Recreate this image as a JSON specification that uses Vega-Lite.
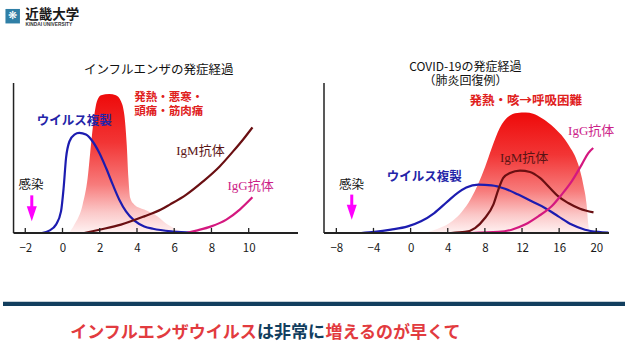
{
  "$schema": "https://vega.github.io/schema/vega-lite/v6.json",
  "padding": 0,
  "background": "white",
  "bounds": "flush",
  "spacing": 0,
  "config": {
    "view": {"stroke": null},
    "font": "Noto Sans CJK JP",
    "axis": {"domain": false, "ticks": false, "tickSize": 0, "grid": false, "labelFont": "Noto Sans CJK JP", "labelFontSize": 11.5, "labelColor": "#1a1a1a", "labelPadding": 9, "labelFlush": false, "labelOverlap": false}
  },
  "datasets": {
    "logo": [{"col": 9.7, "row": 16.2, "text": "❋"}],
    "logo_name": [{"col": 22.3, "row": 15, "text": "近畿大学"}],
    "logo_sub": [{"col": 22.5, "row": 25.3, "text": "KINDAI UNIVERSITY"}],
    "footer_rule": [{"col": 0, "col2": 625, "row": 220.8}],
    "caption": [
      {"text": "インフルエンザウイルス", "col": 160.5, "row": 249.5, "tone": "red"},
      {"text": "は非常に", "col": 288, "row": 249.5, "tone": "navy"},
      {"text": "増えるのが早くて", "col": 390, "row": 249.5, "tone": "red"}
    ],
    "flu_fever": [
      {"day": 0.35, "level": 0}, {"day": 0.64, "level": 5.6}, {"day": 1.08, "level": 18.9}, {"day": 1.35, "level": 36.7},
      {"day": 1.53, "level": 58.9}, {"day": 1.71, "level": 78.9}, {"day": 1.85, "level": 87.8}, {"day": 2.07, "level": 91.8},
      {"day": 2.51, "level": 92.7}, {"day": 2.87, "level": 91.8}, {"day": 3.14, "level": 87.8}, {"day": 3.32, "level": 78.9},
      {"day": 3.45, "level": 58.9}, {"day": 3.54, "level": 36.7}, {"day": 3.64, "level": 23.3}, {"day": 3.86, "level": 18.9},
      {"day": 4.39, "level": 15.6}, {"day": 5.11, "level": 11}, {"day": 5.6, "level": 6}, {"day": 6.1, "level": 2.5}, {"day": 6.6, "level": 0}
    ],
    "flu_lines": [
      {"series": "virus", "day": -1.1, "level": 0}, {"series": "virus", "day": -0.71, "level": 1.6}, {"series": "virus", "day": -0.35, "level": 5.6},
      {"series": "virus", "day": -0.08, "level": 14.4}, {"series": "virus", "day": 0.06, "level": 30}, {"series": "virus", "day": 0.19, "level": 50},
      {"series": "virus", "day": 0.37, "level": 61}, {"series": "virus", "day": 0.64, "level": 65.6}, {"series": "virus", "day": 0.9, "level": 66.7},
      {"series": "virus", "day": 1.26, "level": 65.6}, {"series": "virus", "day": 1.62, "level": 61}, {"series": "virus", "day": 1.98, "level": 53.3},
      {"series": "virus", "day": 2.34, "level": 43.3}, {"series": "virus", "day": 2.7, "level": 32.2}, {"series": "virus", "day": 3.05, "level": 22.2},
      {"series": "virus", "day": 3.41, "level": 14.4}, {"series": "virus", "day": 3.86, "level": 8.2}, {"series": "virus", "day": 4.39, "level": 4.4},
      {"series": "virus", "day": 4.86, "level": 2.8}, {"series": "virus", "day": 5.93, "level": 1}, {"series": "virus", "day": 7.0, "level": 0.3},
      {"series": "IgM", "day": 1.17, "level": 0}, {"series": "IgM", "day": 1.98, "level": 2.2}, {"series": "IgM", "day": 3.14, "level": 5.6},
      {"series": "IgM", "day": 4.39, "level": 11.1}, {"series": "IgM", "day": 5.29, "level": 15.6}, {"series": "IgM", "day": 5.76, "level": 18.9},
      {"series": "IgM", "day": 6.65, "level": 25.6}, {"series": "IgM", "day": 7.55, "level": 34.4}, {"series": "IgM", "day": 8.44, "level": 44.4},
      {"series": "IgM", "day": 9.16, "level": 54.4}, {"series": "IgM", "day": 9.69, "level": 62.2}, {"series": "IgM", "day": 10.2, "level": 70.4},
      {"series": "IgG", "day": 6.65, "level": 0}, {"series": "IgG", "day": 7.19, "level": 1.6}, {"series": "IgG", "day": 7.99, "level": 4.4},
      {"series": "IgG", "day": 8.8, "level": 8.9}, {"series": "IgG", "day": 9.52, "level": 15.6}, {"series": "IgG", "day": 10.2, "level": 23.8}
    ],
    "flu_ticks": [{"day": -2}, {"day": 0}, {"day": 2}, {"day": 4}, {"day": 6}, {"day": 8}, {"day": 10}],
    "flu_frame": [{"day": -2.63, "day2": 12.648}],
    "flu_bold": [
      {"text": "ウイルス複製", "day": 0.63, "level": 74.5}
    ],
    "flu_red": [
      {"text": "発熱・悪寒・\n頭痛・筋肉痛", "day": 5.71, "level": 89.8}
    ],
    "flu_ab": [
      {"text": "IgM抗体", "day": 7.41, "level": 54.9, "kind": "IgM"},
      {"text": "IgG抗体", "day": 10.1, "level": 31.1, "kind": "IgG"}
    ],
    "flu_plain": [
      {"text": "インフルエンザの発症経過", "day": 5.17, "level": 109},
      {"text": "感染", "day": -1.69, "level": 31.8}
    ],
    "flu_arrow": [{"day": -1.65, "top": 25.1, "head": 12.8}],
    "cov_fever": [
      {"day": 1.5, "level": 0}, {"day": 3, "level": 3}, {"day": 4.5, "level": 8}, {"day": 5.5, "level": 14}, {"day": 6.5, "level": 23},
      {"day": 7.3, "level": 33}, {"day": 8.05, "level": 44.5}, {"day": 8.7, "level": 56}, {"day": 9.6, "level": 70}, {"day": 10.5, "level": 77.5},
      {"day": 11.5, "level": 80}, {"day": 12.4, "level": 80.3}, {"day": 13.2, "level": 79.5}, {"day": 14.1, "level": 76.7}, {"day": 15.5, "level": 70},
      {"day": 17.0, "level": 58.9}, {"day": 18.06, "level": 45.6}, {"day": 18.6, "level": 32.2}, {"day": 18.96, "level": 18.9}, {"day": 19.14, "level": 5.6},
      {"day": 19.25, "level": 0}
    ],
    "cov_lines": [
      {"series": "virus", "day": -5.34, "level": 0}, {"series": "virus", "day": -3.91, "level": 0.7}, {"series": "virus", "day": -2.11, "level": 2.2},
      {"series": "virus", "day": -0.31, "level": 4.4}, {"series": "virus", "day": 1.12, "level": 7.8}, {"series": "virus", "day": 2.55, "level": 13.3},
      {"series": "virus", "day": 3.99, "level": 21.1}, {"series": "virus", "day": 5.07, "level": 26.7}, {"series": "virus", "day": 6.0, "level": 30.3},
      {"series": "virus", "day": 7.29, "level": 32.2}, {"series": "virus", "day": 8.73, "level": 31.8}, {"series": "virus", "day": 10.17, "level": 29.5},
      {"series": "virus", "day": 11.6, "level": 25.6}, {"series": "virus", "day": 13.04, "level": 21.1}, {"series": "virus", "day": 14.47, "level": 16.7},
      {"series": "virus", "day": 15.91, "level": 11.1}, {"series": "virus", "day": 17.35, "level": 5.6}, {"series": "virus", "day": 18.78, "level": 2.2},
      {"series": "virus", "day": 20.21, "level": 0.7}, {"series": "virus", "day": 21.3, "level": 0.2},
      {"series": "IgM", "day": 4.35, "level": 0}, {"series": "IgM", "day": 5.86, "level": 0.7}, {"series": "IgM", "day": 6.94, "level": 3.3},
      {"series": "IgM", "day": 8.01, "level": 10}, {"series": "IgM", "day": 8.91, "level": 18.9}, {"series": "IgM", "day": 9.45, "level": 28.9},
      {"series": "IgM", "day": 9.98, "level": 36.7}, {"series": "IgM", "day": 10.7, "level": 40}, {"series": "IgM", "day": 11.78, "level": 41.6},
      {"series": "IgM", "day": 12.86, "level": 40.7}, {"series": "IgM", "day": 13.93, "level": 36.7}, {"series": "IgM", "day": 15.01, "level": 30},
      {"series": "IgM", "day": 15.91, "level": 24.4}, {"series": "IgM", "day": 16.98, "level": 20}, {"series": "IgM", "day": 18.24, "level": 16.2},
      {"series": "IgM", "day": 19.7, "level": 13.8},
      {"series": "IgG", "day": 6.5, "level": 0}, {"series": "IgG", "day": 9.45, "level": 0.7}, {"series": "IgG", "day": 10.89, "level": 2.2},
      {"series": "IgG", "day": 12.32, "level": 5.6}, {"series": "IgG", "day": 13.75, "level": 11.1}, {"series": "IgG", "day": 15.19, "level": 17.8},
      {"series": "IgG", "day": 16.27, "level": 25.6}, {"series": "IgG", "day": 17.35, "level": 34.4}, {"series": "IgG", "day": 18.43, "level": 45.6},
      {"series": "IgG", "day": 19.14, "level": 53.3}, {"series": "IgG", "day": 19.67, "level": 56.7}
    ],
    "cov_ticks": [{"day": -8}, {"day": -4}, {"day": 0}, {"day": 4}, {"day": 8}, {"day": 12}, {"day": 16}, {"day": 20}],
    "cov_frame": [{"day": -9.33, "day2": 21.37}],
    "cov_bold": [
      {"text": "ウイルス複製", "day": 1.48, "level": 37.1, "kind": "virus"},
      {"text": "発熱・咳→呼吸困難", "day": 12.4, "level": 87.8, "kind": "fever"}
    ],
    "cov_ab": [
      {"text": "IgM抗体", "day": 12.23, "level": 50, "kind": "IgM"},
      {"text": "IgG抗体", "day": 19.45, "level": 67.8, "kind": "IgG"}
    ],
    "cov_title": [
      {"text": "COVID-19の発症経過\n（肺炎回復例）", "day": 5.9, "level": 110.9}
    ],
    "cov_plain": [
      {"text": "感染", "day": -6.36, "level": 31.8}
    ],
    "cov_arrow": [{"day": -6.34, "top": 25.6, "head": 13.9}]
  },
  "vconcat": [
    {
      "width": 625,
      "height": 83,
      "layer": [
        {
          "data": {"name": "logo"},
          "mark": {"type": "point", "shape": "square", "filled": true, "size": 210, "color": "#2f7fa6", "opacity": 1},
          "encoding": {
            "x": {"field": "col", "type": "quantitative", "scale": {"domain": [0, 625], "nice": false, "zero": false}, "axis": null},
            "y": {"field": "row", "type": "quantitative", "scale": {"domain": [0, 83], "nice": false, "zero": false, "reverse": true}, "axis": null}
          }
        },
        {
          "data": {"name": "logo"},
          "mark": {"type": "text", "font": "DejaVu Sans", "fontSize": 11, "color": "white", "align": "center", "baseline": "middle"},
          "encoding": {
            "x": {"field": "col", "type": "quantitative"},
            "y": {"field": "row", "type": "quantitative"},
            "text": {"field": "text"}
          }
        },
        {
          "data": {"name": "logo_name"},
          "mark": {"type": "text", "font": "Noto Sans CJK JP", "fontSize": 13.5, "fontWeight": "bold", "color": "#1a1a1a", "align": "left", "baseline": "middle"},
          "encoding": {
            "x": {"field": "col", "type": "quantitative"},
            "y": {"field": "row", "type": "quantitative"},
            "text": {"field": "text"}
          }
        },
        {
          "data": {"name": "logo_sub"},
          "mark": {"type": "text", "font": "Liberation Sans", "fontSize": 4.8, "fontWeight": "bold", "color": "#333333", "align": "left", "baseline": "middle"},
          "encoding": {
            "x": {"field": "col", "type": "quantitative"},
            "y": {"field": "row", "type": "quantitative"},
            "text": {"field": "text"}
          }
        }
      ]
    },
    {
      "hconcat": [
        {
          "width": 295,
          "height": 150,
          "resolve": {"scale": {"color": "independent"}},
          "layer": [
            {
              "data": {"name": "flu_fever"},
              "mark": {"type": "area", "interpolate": "monotone", "opacity": 1, "fill": {"gradient": "linear", "x1": 0, "y1": 0, "x2": 0, "y2": 1, "stops": [{"offset": 0, "color": "#ee0a0a"}, {"offset": 0.35, "color": "#f23535"}, {"offset": 0.65, "color": "#f77b7b"}, {"offset": 0.85, "color": "#fbc8c8"}, {"offset": 1, "color": "#fff2f2"}]}},
              "encoding": {
                "x": {"field": "day", "type": "quantitative", "scale": {"domain": [-3.196, 12.648], "nice": false, "zero": false}, "axis": {"values": [-2, 0, 2, 4, 6, 8, 10], "title": null}},
                "y": {"field": "level", "type": "quantitative", "scale": {"domain": [0, 100], "nice": false, "zero": false}, "axis": null}
              }
            },
            {
              "data": {"name": "flu_lines"},
              "mark": {"type": "line", "interpolate": "monotone", "strokeWidth": 2.2},
              "encoding": {
                "x": {"field": "day", "type": "quantitative"},
                "y": {"field": "level", "type": "quantitative"},
                "color": {"field": "series", "type": "nominal", "scale": {"domain": ["IgM", "IgG", "virus"], "range": ["#6a0f12", "#d4187f", "#1c1cb0"]}, "legend": null}
              }
            },
            {
              "data": {"name": "flu_frame"},
              "mark": {"type": "rule", "color": "#222222", "strokeWidth": 2},
              "encoding": {
                "x": {"field": "day", "type": "quantitative"},
                "x2": {"field": "day2"},
                "y": {"datum": 0}
              }
            },
            {
              "data": {"name": "flu_frame"},
              "mark": {"type": "rule", "color": "#222222", "strokeWidth": 1.5},
              "encoding": {
                "x": {"field": "day", "type": "quantitative"},
                "y": {"datum": 0},
                "y2": {"datum": 100}
              }
            },
            {
              "data": {"name": "flu_ticks"},
              "mark": {"type": "rule", "color": "#222222", "strokeWidth": 1.3},
              "encoding": {
                "x": {"field": "day", "type": "quantitative"},
                "y": {"datum": 0},
                "y2": {"datum": 3.4}
              }
            },
            {
              "data": {"name": "flu_bold"},
              "mark": {"type": "text", "font": "Noto Sans CJK JP", "fontSize": 12.5, "fontWeight": "bold", "align": "center", "baseline": "middle", "color": "#2424a8"},
              "encoding": {
                "x": {"field": "day", "type": "quantitative"},
                "y": {"field": "level", "type": "quantitative"},
                "text": {"field": "text"}
              }
            },
            {
              "data": {"name": "flu_red"},
              "mark": {"type": "text", "font": "Noto Sans CJK JP", "fontSize": 11.5, "fontWeight": "bold", "align": "center", "baseline": "middle", "color": "#e0201c", "lineBreak": "\n", "lineHeight": 13.4},
              "encoding": {
                "x": {"field": "day", "type": "quantitative"},
                "y": {"field": "level", "type": "quantitative"},
                "text": {"field": "text"}
              }
            },
            {
              "data": {"name": "flu_ab"},
              "mark": {"type": "text", "font": "Liberation Serif, Noto Sans CJK JP", "fontSize": 13, "align": "center", "baseline": "middle"},
              "encoding": {
                "x": {"field": "day", "type": "quantitative"},
                "y": {"field": "level", "type": "quantitative"},
                "text": {"field": "text"},
                "color": {"field": "kind", "type": "nominal", "scale": {"domain": ["IgM", "IgG"], "range": ["#5a1414", "#cc2288"]}, "legend": null}
              }
            },
            {
              "data": {"name": "flu_plain"},
              "mark": {"type": "text", "font": "Noto Sans CJK JP", "fontSize": 12.5, "color": "#111111", "align": "center", "baseline": "middle"},
              "encoding": {
                "x": {"field": "day", "type": "quantitative"},
                "y": {"field": "level", "type": "quantitative"},
                "text": {"field": "text"}
              }
            },
            {
              "data": {"name": "flu_arrow"},
              "mark": {"type": "rule", "color": "#ff00ff", "strokeWidth": 3},
              "encoding": {
                "x": {"field": "day", "type": "quantitative"},
                "y": {"field": "top", "type": "quantitative"},
                "y2": {"field": "head"}
              }
            },
            {
              "data": {"name": "flu_arrow"},
              "mark": {"type": "point", "shape": "M-0.667,-1L0.667,-1L0,1Z", "size": 225, "filled": true, "color": "#ff00ff", "opacity": 1},
              "encoding": {
                "x": {"field": "day", "type": "quantitative"},
                "y": {"field": "head", "type": "quantitative"}
              }
            }
          ]
        },
        {
          "width": 285,
          "height": 150,
          "resolve": {"scale": {"color": "independent"}},
          "layer": [
            {
              "data": {"name": "cov_fever"},
              "mark": {"type": "area", "interpolate": "monotone", "opacity": 1, "fill": {"gradient": "linear", "x1": 0, "y1": 0, "x2": 0, "y2": 1, "stops": [{"offset": 0, "color": "#ee0a0a"}, {"offset": 0.35, "color": "#f23535"}, {"offset": 0.65, "color": "#f77b7b"}, {"offset": 0.85, "color": "#fbc8c8"}, {"offset": 1, "color": "#fff2f2"}]}},
              "encoding": {
                "x": {"field": "day", "type": "quantitative", "scale": {"domain": [-9.33, 21.37], "nice": false, "zero": false}, "axis": {"values": [-8, -4, 0, 4, 8, 12, 16, 20], "title": null}},
                "y": {"field": "level", "type": "quantitative", "scale": {"domain": [0, 100], "nice": false, "zero": false}, "axis": null}
              }
            },
            {
              "data": {"name": "cov_lines"},
              "mark": {"type": "line", "interpolate": "monotone", "strokeWidth": 2.2},
              "encoding": {
                "x": {"field": "day", "type": "quantitative"},
                "y": {"field": "level", "type": "quantitative"},
                "color": {"field": "series", "type": "nominal", "scale": {"domain": ["IgM", "IgG", "virus"], "range": ["#6a0f12", "#d4187f", "#1c1cb0"]}, "legend": null}
              }
            },
            {
              "data": {"name": "cov_frame"},
              "mark": {"type": "rule", "color": "#222222", "strokeWidth": 2},
              "encoding": {
                "x": {"field": "day", "type": "quantitative"},
                "x2": {"field": "day2"},
                "y": {"datum": 0}
              }
            },
            {
              "data": {"name": "cov_frame"},
              "mark": {"type": "rule", "color": "#222222", "strokeWidth": 1.5},
              "encoding": {
                "x": {"field": "day", "type": "quantitative"},
                "y": {"datum": 0},
                "y2": {"datum": 100}
              }
            },
            {
              "data": {"name": "cov_ticks"},
              "mark": {"type": "rule", "color": "#222222", "strokeWidth": 1.3},
              "encoding": {
                "x": {"field": "day", "type": "quantitative"},
                "y": {"datum": 0},
                "y2": {"datum": 3.4}
              }
            },
            {
              "data": {"name": "cov_bold"},
              "mark": {"type": "text", "font": "Noto Sans CJK JP", "fontSize": 12.5, "fontWeight": "bold", "align": "center", "baseline": "middle"},
              "encoding": {
                "x": {"field": "day", "type": "quantitative"},
                "y": {"field": "level", "type": "quantitative"},
                "text": {"field": "text"},
                "color": {"field": "kind", "type": "nominal", "scale": {"domain": ["virus", "fever"], "range": ["#2424a8", "#e0201c"]}, "legend": null}
              }
            },
            {
              "data": {"name": "cov_ab"},
              "mark": {"type": "text", "font": "Liberation Serif, Noto Sans CJK JP", "fontSize": 13, "align": "center", "baseline": "middle"},
              "encoding": {
                "x": {"field": "day", "type": "quantitative"},
                "y": {"field": "level", "type": "quantitative"},
                "text": {"field": "text"},
                "color": {"field": "kind", "type": "nominal", "scale": {"domain": ["IgM", "IgG"], "range": ["#5a1414", "#cc2288"]}, "legend": null}
              }
            },
            {
              "data": {"name": "cov_title"},
              "mark": {"type": "text", "font": "Noto Sans CJK JP", "fontSize": 12, "color": "#111111", "align": "center", "baseline": "middle", "lineBreak": "\n", "lineHeight": 14},
              "encoding": {
                "x": {"field": "day", "type": "quantitative"},
                "y": {"field": "level", "type": "quantitative"},
                "text": {"field": "text"}
              }
            },
            {
              "data": {"name": "cov_plain"},
              "mark": {"type": "text", "font": "Noto Sans CJK JP", "fontSize": 12.5, "color": "#111111", "align": "center", "baseline": "middle"},
              "encoding": {
                "x": {"field": "day", "type": "quantitative"},
                "y": {"field": "level", "type": "quantitative"},
                "text": {"field": "text"}
              }
            },
            {
              "data": {"name": "cov_arrow"},
              "mark": {"type": "rule", "color": "#ff00ff", "strokeWidth": 3},
              "encoding": {
                "x": {"field": "day", "type": "quantitative"},
                "y": {"field": "top", "type": "quantitative"},
                "y2": {"field": "head"}
              }
            },
            {
              "data": {"name": "cov_arrow"},
              "mark": {"type": "point", "shape": "M-0.667,-1L0.667,-1L0,1Z", "size": 225, "filled": true, "color": "#ff00ff", "opacity": 1},
              "encoding": {
                "x": {"field": "day", "type": "quantitative"},
                "y": {"field": "head", "type": "quantitative"}
              }
            }
          ]
        }
      ],
      "spacing": 26,
      "bounds": "flush",
      "resolve": {"scale": {"x": "independent", "y": "independent", "color": "independent"}}
    },
    {
      "width": 625,
      "height": 269,
      "layer": [
        {
          "data": {"name": "footer_rule"},
          "mark": {"type": "rule", "color": "#123e5e", "strokeWidth": 4.3},
          "encoding": {
            "x": {"field": "col", "type": "quantitative", "scale": {"domain": [0, 625], "nice": false, "zero": false}, "axis": null},
            "x2": {"field": "col2"},
            "y": {"field": "row", "type": "quantitative", "scale": {"domain": [0, 269], "nice": false, "zero": false, "reverse": true}, "axis": null}
          }
        },
        {
          "data": {"name": "caption"},
          "mark": {"type": "text", "font": "Noto Sans CJK JP", "fontSize": 17, "fontWeight": "bold", "align": "center", "baseline": "middle"},
          "encoding": {
            "x": {"field": "col", "type": "quantitative"},
            "y": {"field": "row", "type": "quantitative"},
            "text": {"field": "text"},
            "color": {"field": "tone", "type": "nominal", "scale": {"domain": ["red", "navy"], "range": ["#e23b3f", "#123e5e"]}, "legend": null}
          }
        }
      ]
    }
  ]
}
